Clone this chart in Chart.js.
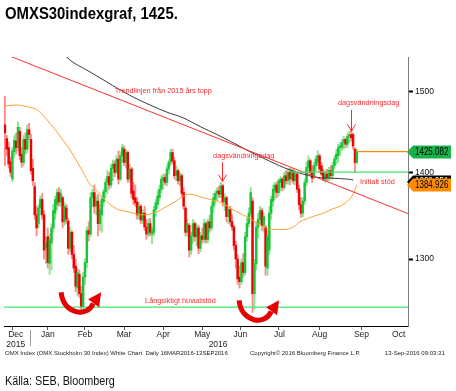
<!DOCTYPE html>
<html><head><meta charset="utf-8">
<script src="https://cdn.jsdelivr.net/npm/chart.js@4.4.0/dist/chart.umd.min.js"></script>
<style>
html,body{margin:0;padding:0;background:#fff;width:456px;height:391px;overflow:hidden}
#wrap{position:relative;width:456px;height:391px}
canvas{position:absolute;left:0;top:0}
.t{position:absolute;white-space:nowrap;color:#000;line-height:1;transform-origin:0 0}
#title{left:5px;top:4px;font:bold 17px "Liberation Sans",sans-serif;transform:scaleX(0.875)}
#src{left:5px;top:373px;font:13.5px "Liberation Sans",sans-serif;color:#111;transform:scaleX(0.8)}
.f{top:350px;font:6px "Liberation Sans",sans-serif;color:#222}
</style></head><body><div id="wrap">
<canvas id="c" width="456" height="391"></canvas>
<div class="t" id="title">OMXS30indexgraf, 1425.</div>
<div class="t f" style="left:5px">OMX Index (OMX Stockholm 30 Index) White Chart&nbsp; Daily 16MAR2016-13SEP2016</div>
<div class="t f" style="left:250px">Copyright© 2016 Bloomberg Finance L.P.</div>
<div class="t f" style="left:385px">13-Sep-2016 09:03:31</div>
<div class="t" id="src">Källa: SEB, Bloomberg</div>
</div>
<script>
// ---- data (daily OHLC, trading-day index 0 = mid Dec 2015, 189 = 13 Sep 2016) ----
const open = [1458,1441,1430,1413,1392,1425,1438,1430,1450,1422,1412,1440,1428,1452,1440,1405,1383,1350,1340,1358,
1368,1350,1312,1325,1295,1318,1335,1352,1362,1376,1365,1370,1342,1358,1343,1312,1330,1305,1292,1268,
1283,1262,1248,1280,1296,1332,1328,1370,1376,1360,1366,1340,1350,1365,1377,1388,1395,1385,1405,1410,
1400,1416,1392,1420,1428,1412,1424,1392,1404,1378,1370,1365,1350,1360,1344,1352,1336,1328,1340,1328,
1330,1356,1362,1370,1380,1390,1394,1388,1404,1412,1424,1414,1396,1402,1390,1396,1376,1358,1330,1338,
1310,1326,1340,1325,1335,1312,1326,1322,1340,1322,1342,1335,1360,1368,1375,1378,1374,1384,1365,1370,
1348,1356,1342,1336,1315,1300,1280,1275,1296,1285,1325,1340,1352,1366,1262,1295,1336,1345,1355,1338,
1336,1290,1310,1352,1366,1378,1385,1376,1388,1392,1382,1396,1390,1400,1392,1400,1390,1398,1380,1362,
1352,1366,1388,1406,1414,1400,1395,1408,1412,1420,1408,1400,1392,1398,1394,1402,1396,1408,1416,1420,
1430,1430,1436,1440,1434,1444,1446,1446,1428,1412];
const high = [1494,1445,1437,1418,1430,1445,1448,1462,1455,1430,1445,1448,1458,1460,1446,1416,1388,1360,1362,1372,
1375,1355,1325,1335,1328,1340,1362,1372,1380,1382,1380,1372,1365,1362,1346,1336,1332,1315,1300,1290,
1288,1270,1285,1300,1336,1342,1376,1380,1385,1372,1374,1362,1372,1380,1392,1402,1400,1410,1415,1414,
1420,1426,1425,1434,1432,1428,1426,1410,1406,1388,1385,1370,1365,1362,1356,1360,1345,1345,1346,1336,
1360,1368,1378,1385,1396,1398,1398,1408,1415,1428,1428,1418,1408,1404,1400,1398,1382,1360,1345,1340,
1330,1345,1342,1340,1338,1330,1335,1345,1342,1345,1350,1365,1375,1378,1382,1384,1388,1386,1375,1372,
1360,1360,1350,1338,1320,1305,1292,1300,1306,1330,1346,1358,1382,1370,1300,1342,1352,1360,1358,1352,
1338,1332,1360,1372,1385,1388,1388,1392,1395,1394,1400,1402,1404,1405,1405,1404,1402,1400,1385,1370,
1370,1392,1412,1420,1416,1408,1412,1420,1426,1422,1412,1404,1402,1404,1406,1408,1412,1420,1428,1434,
1436,1440,1444,1442,1448,1450,1452,1448,1430,1428];
const low = [1408,1420,1405,1395,1389,1418,1422,1426,1415,1406,1408,1422,1424,1440,1398,1384,1345,1326,1335,1350,
1345,1300,1295,1290,1283,1288,1330,1345,1356,1360,1360,1335,1338,1340,1305,1308,1300,1285,1264,1260,
1258,1240,1242,1272,1290,1320,1325,1360,1352,1350,1326,1332,1330,1360,1370,1375,1380,1382,1390,1395,
1398,1386,1390,1412,1408,1405,1388,1388,1370,1362,1360,1345,1345,1340,1340,1332,1322,1325,1326,1317,
1326,1348,1358,1366,1376,1380,1385,1384,1398,1408,1410,1392,1390,1386,1384,1370,1356,1326,1325,1302,
1305,1318,1320,1315,1306,1308,1318,1318,1318,1318,1330,1332,1352,1362,1366,1370,1370,1360,1355,1342,
1340,1338,1332,1310,1290,1272,1268,1272,1280,1282,1320,1336,1348,1242,1245,1288,1324,1340,1332,1330,
1282,1282,1305,1345,1360,1368,1370,1372,1378,1378,1380,1386,1386,1385,1388,1386,1385,1376,1356,1347,
1348,1362,1384,1400,1396,1388,1392,1402,1408,1400,1396,1390,1388,1390,1390,1392,1392,1404,1410,1412,
1420,1426,1428,1430,1430,1436,1438,1428,1400,1410];
const close = [1448,1428,1410,1400,1426,1439,1430,1455,1420,1412,1440,1428,1452,1446,1402,1390,1350,1335,1358,1368,
1350,1310,1318,1296,1322,1335,1355,1368,1376,1365,1375,1342,1360,1345,1312,1330,1305,1290,1270,1285,
1262,1248,1280,1296,1332,1328,1370,1376,1360,1366,1340,1356,1368,1377,1388,1395,1385,1405,1410,1400,
1416,1392,1420,1430,1412,1424,1392,1404,1375,1368,1364,1350,1360,1344,1352,1336,1328,1340,1330,1332,
1356,1364,1372,1380,1392,1394,1388,1404,1412,1424,1414,1396,1402,1390,1396,1375,1360,1330,1340,1310,
1326,1340,1325,1335,1312,1326,1322,1340,1322,1342,1335,1360,1370,1375,1378,1374,1384,1365,1370,1348,
1356,1342,1336,1315,1300,1278,1275,1296,1285,1325,1340,1352,1376,1262,1295,1336,1345,1355,1338,1348,
1292,1326,1352,1368,1380,1385,1376,1390,1392,1382,1396,1390,1400,1392,1402,1390,1398,1380,1362,1352,
1366,1388,1406,1414,1400,1393,1408,1416,1420,1404,1398,1392,1398,1394,1402,1396,1408,1416,1422,1430,
1432,1436,1440,1434,1444,1446,1442,1432,1412,1425.082];

// moving averages (index, value)
const ma50Idx = [0,6.5,13.5,17.3,20.5,24.2,28,31.2,35,38.7,42,45.7,49.5,52.7,56.5,60,65,69,74,80,87,92,97,100,105,110,114,118,122.5,127,131.6,137,142,149.5,154.8,158.5,164,168,171,176,180,184,186.5,189];
const ma50 = [1482,1483,1480,1477,1470,1460,1449,1439,1427,1413,1400,1386,1378,1370,1362,1357,1354,1352,1350,1352,1360,1366,1373,1374,1371,1368,1366,1362,1356,1351,1346,1338,1334,1333,1336,1342,1347,1350,1352,1357,1360,1366,1372,1384.926];
const ma200Idx = [22,35,44,51,60,69,78,87,95.6,104.8,113.9,122.5,131.6,140.8,149.5,158.5,167.6,176.2,184,187];
const ma200 = [1575,1541,1528,1518,1505,1493,1483,1474,1467,1456,1446,1436,1425,1415,1406,1399,1394,1393,1392,1391];
// trend line from the 2015 top, support levels
const trendIdx = [0,216.5];
const trendVal = [1549,1351.5];
const longSupport = 1247.5;
const initSupport = 1400.2, initSupportFrom = 154.2;
const lastClose = 1425.082, ma200Last = 1388.951, ma50Last = 1384.926;

// axis labels
const monthLabels = ['Dec','Jan','Feb','Mar','Apr','May','Jun','Jul','Aug','Sep','Oct'];
const monthCenters = [5.8,23,43,64,85,106,126.5,147.5,169,191.5,211.5];
const monthBounds = [13.5,32.5,53.5,74.5,95.5,116.5,136.5,157.5,180.5,202.5];
const yearLabels = ['2015','2016'];
const yearCenters = [5.8,114.5];
const yTicks = [1300,1400,1500];

// ---- chart ----
const N = close.length;
const GU='#19c43a', GW='#86e68e', RD='#f00000', RW='#ff8a8a';
const up = close.map((c,i)=>c>=open[i]);
const wick = high.map((h,i)=>({x:i,y:[low[i],h]}));
const body = close.map((c,i)=>({x:i,y:[open[i],c]}));
const pts = (xs,vs)=>xs.map((x,i)=>({x,y:vs[i]}));

const anno = {
  id:'anno',
  afterDatasetsDraw(chart){
    const {ctx, scales:{x,y}} = chart;
    const X=v=>x.getPixelForValue(v), Y=v=>y.getPixelForValue(v);
    ctx.save();
    const red='#ff2b2b';
    ctx.fillStyle=red; ctx.textBaseline='middle'; ctx.textAlign='left';
    ctx.font='7.3px "Liberation Sans", sans-serif';
    ctx.fillText('Trendlinjen från 2015 års topp', X(59), Y(1501));
    ctx.fillText('dagsvändningsdag', X(178.9), Y(1485));
    ctx.fillText('dagsvändningsdag', X(111.8), Y(1420));
    ctx.fillText('Initialt stöd', X(190.7), Y(1389));
    ctx.fillText('Långsiktigt huvudstöd', X(75.3), Y(1254));
    // thin arrows
    ctx.strokeStyle=red; ctx.lineWidth=1;
    for (const a of [[185.9,1477,1450],[116.6,1412,1389]]){
      const px=Math.round(X(a[0]))+0.5, y0=Y(a[1]), y1=Y(a[2]);
      ctx.beginPath(); ctx.moveTo(px,y0); ctx.lineTo(px,y1);
      ctx.moveTo(px-4,y1-7); ctx.lineTo(px,y1); ctx.lineTo(px+4,y1-7); ctx.stroke();
    }
    // thick U-shaped arrows
    ctx.strokeStyle='#e60000'; ctx.fillStyle='#e60000'; ctx.lineWidth=5; ctx.lineCap='butt';
    for (const u of [[40.4,1241],[136,1232.5]]){
      const cx=X(u[0]), cy=Y(u[1]);
      ctx.beginPath(); ctx.moveTo(cx-19,cy-21);
      ctx.bezierCurveTo(cx-17,cy+2, cx+8,cy+4, cx+13,cy-10); ctx.stroke();
      ctx.beginPath(); ctx.moveTo(cx+21,cy-21); ctx.lineTo(cx+8,cy-14); ctx.lineTo(cx+19,cy-6); ctx.closePath(); ctx.fill();
    }
    ctx.restore();
  },
  afterDraw(chart){
    const {ctx, scales:{x,y}} = chart;
    const Y=v=>y.getPixelForValue(v);
    ctx.save();
    // year separator below the axis
    const xs=Math.round(x.getPixelForValue(monthBounds[0]))+0.5;
    ctx.strokeStyle='#999'; ctx.lineWidth=1;
    ctx.beginPath(); ctx.moveTo(xs,330); ctx.lineTo(xs,346); ctx.stroke();
    // value boxes
    const box=(v,bg,fg)=>{
      const cy=Math.round(Y(v)), l=410, r=451, h=6.5;
      ctx.fillStyle=bg; ctx.beginPath();
      ctx.moveTo(l-3,cy); ctx.lineTo(l+3,cy-h); ctx.lineTo(r,cy-h); ctx.lineTo(r,cy+h); ctx.lineTo(l+3,cy+h); ctx.closePath(); ctx.fill();
      ctx.save(); ctx.translate(l+5, cy+0.5); ctx.scale(0.8,1);
      ctx.fillStyle=fg; ctx.font='10px "Liberation Sans", sans-serif'; ctx.textAlign='left'; ctx.textBaseline='middle';
      ctx.fillText(v.toFixed(3), 0, 0);
      ctx.restore();
    };
    box(lastClose,'#17b24a','#000');
    box(ma200Last,'#000','#fff');
    box(ma50Last,'#ff8c00','#000');
    ctx.restore();
  }
};

new Chart(document.getElementById('c'), {
  type:'bar',
  data:{datasets:[
    {type:'line', data:pts(trendIdx,trendVal), borderColor:'#ff3030', borderWidth:1, pointRadius:0, order:3},
    {type:'line', data:pts(ma200Idx,ma200), borderColor:'#3a3a3a', borderWidth:1, pointRadius:0, tension:0.3, order:3},
    {type:'line', data:pts(ma50Idx,ma50), borderColor:'#ffa032', borderWidth:1, pointRadius:0, cubicInterpolationMode:'monotone', order:3},
    {type:'line', data:[{x:-0.5,y:longSupport},{x:216.5,y:longSupport}], borderColor:'#3ee66a', borderWidth:1.3, pointRadius:0, order:2},
    {type:'line', data:[{x:initSupportFrom,y:initSupport},{x:216.5,y:initSupport}], borderColor:'#3ee66a', borderWidth:1.3, pointRadius:0, order:2},
    {type:'line', data:[{x:N-1,y:lastClose},{x:216.5,y:lastClose}], borderColor:'#ff8c00', borderWidth:1.2, pointRadius:0, order:2},
    {type:'bar', data:wick, backgroundColor:up.map(u=>u?GW:RW), barThickness:1.2, grouped:false, order:5},
    {type:'bar', data:body, backgroundColor:up.map(u=>u?GU:RD), barThickness:1.8, grouped:false, order:4, minBarLength:1}
  ]},
  options:{
    responsive:false, animation:false, events:[],
    layout:{padding:{top:57,left:4,right:0,bottom:0}},
    plugins:{legend:{display:false}, tooltip:{enabled:false}},
    scales:{
      x:{type:'linear', min:-0.5, max:216.5, offset:false,
        afterBuildTicks:s=>{s.ticks=[...monthBounds,...monthCenters,yearCenters[1]].map(v=>({value:v}));},
        afterFit:s=>{s.height=65;},
        grid:{display:true, drawOnChartArea:false, drawTicks:true, tickLength:4, color:'rgba(0,0,0,0)',
          tickColor:c=>(c.tick && monthBounds.includes(c.tick.value))?'#555':'rgba(0,0,0,0)'},
        border:{display:true,color:'#000',width:1},
        ticks:{autoSkip:false, maxRotation:0, minRotation:0, padding:0, color:'#222',
          font:{family:'"Liberation Sans", sans-serif', size:8.5, lineHeight:1.15},
          callback:(v)=>{
            const k=monthCenters.indexOf(v);
            if(k===0) return [monthLabels[0], yearLabels[0]];
            if(k>0) return monthLabels[k];
            if(v===yearCenters[1]) return ['', yearLabels[1]];
            return '';
          }}
      },
      y:{type:'logarithmic', position:'right', min:1227.6, max:1545.2,
        afterBuildTicks:s=>{s.ticks=yTicks.map(v=>({value:v}));},
        afterFit:s=>{s.width=48;},
        grid:{display:true, drawOnChartArea:false, drawTicks:true, tickLength:5, tickWidth:2, tickColor:'#000'},
        border:{display:true,color:'#7a7a7a',width:1},
        ticks:{padding:2, color:'#111', font:{family:'"Liberation Sans", sans-serif', size:8.5}, callback:v=>String(v)}
      }
    }
  },
  plugins:[anno]
});
</script>
</body></html>
